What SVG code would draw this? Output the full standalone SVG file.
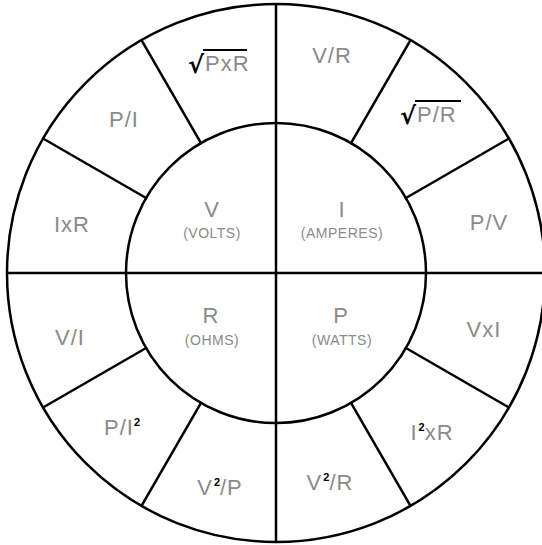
<svg xmlns="http://www.w3.org/2000/svg" width="542" height="545" viewBox="0 0 542 545">
<style>
.ln{fill:none;stroke:#000;stroke-width:2.5}
.t{font-family:"Liberation Sans",Arial,sans-serif;font-size:22px;fill:#8a8a8a;text-anchor:middle;letter-spacing:1px}
.st{text-anchor:start}
.s{font-family:"Liberation Sans",Arial,sans-serif;font-size:14px;fill:#8a8a8a;text-anchor:middle;letter-spacing:0.5px}
.sup{font-family:"Liberation Sans",Arial,sans-serif;font-size:11px;font-weight:bold;fill:#000;letter-spacing:0}
.rad{font-family:"DejaVu Sans",sans-serif;font-size:24px;font-weight:bold;fill:#000}
.ov{stroke:#000;stroke-width:2}
</style>
<rect width="542" height="545" fill="#fff"/>
<g id="connectors">
<circle class="ln" cx="276" cy="273" r="269"/>
<circle class="ln" cx="276" cy="273" r="150"/>
<line class="ln" x1="7" y1="273" x2="545" y2="273"/>
<line class="ln" x1="276" y1="4" x2="276" y2="542"/>
<line class="ln" x1="146.1" y1="198" x2="43.04" y2="138.5"/>
<line class="ln" x1="201" y1="143.1" x2="141.5" y2="40.04"/>
<line class="ln" x1="351" y1="143.1" x2="410.5" y2="40.04"/>
<line class="ln" x1="405.9" y1="198" x2="508.96" y2="138.5"/>
<line class="ln" x1="405.9" y1="348" x2="508.96" y2="407.5"/>
<line class="ln" x1="351" y1="402.9" x2="410.5" y2="505.96"/>
<line class="ln" x1="201" y1="402.9" x2="141.5" y2="505.96"/>
<line class="ln" x1="146.1" y1="348" x2="43.04" y2="407.5"/>
</g>
<g id="volts"><text class="t" x="212" y="217">V</text><text class="s" x="212" y="238">(VOLTS)</text></g>
<g id="amperes"><text class="t" x="342" y="217">I</text><text class="s" x="342" y="238">(AMPERES)</text></g>
<g id="ohms"><text class="t" x="211" y="323">R</text><text class="s" x="212" y="345">(OHMS)</text></g>
<g id="watts"><text class="t" x="341" y="323">P</text><text class="s" x="342" y="345">(WATTS)</text></g>
<g id="sqrt-pxr"><text class="rad" x="188" y="73">√</text><line class="ov" x1="203" y1="50" x2="247" y2="50"/><text class="t st" x="205" y="71">PxR</text></g>
<g id="v-over-r"><text class="t" x="332" y="63">V/R</text></g>
<g id="sqrt-p-over-r"><text class="rad" x="400" y="124">√</text><line class="ov" x1="415" y1="101" x2="461" y2="101"/><text class="t st" x="417" y="122">P/R</text></g>
<g id="p-over-v"><text class="t" x="489" y="230">P/V</text></g>
<g id="p-over-i"><text class="t" x="124" y="127">P/I</text></g>
<g id="i-x-r"><text class="t" x="72" y="232">IxR</text></g>
<g id="v-over-i"><text class="t" x="70" y="345">V/I</text></g>
<g id="v-x-i"><text class="t" x="484" y="337">VxI</text></g>
<g id="p-over-i2"><text class="t" x="122" y="435">P/I<tspan class="sup" dy="-9">2</tspan></text></g>
<g id="v2-over-p"><text class="t" x="220" y="495">V<tspan class="sup" dy="-9" dx="1">2</tspan><tspan dy="9">/P</tspan></text></g>
<g id="v2-over-r"><text class="t" x="330" y="490">V<tspan class="sup" dy="-9" dx="1">2</tspan><tspan dy="9">/R</tspan></text></g>
<g id="i2-x-r"><text class="t" x="432" y="440">I<tspan class="sup" dy="-9" dx="1">2</tspan><tspan dy="9">xR</tspan></text></g>
</svg>
